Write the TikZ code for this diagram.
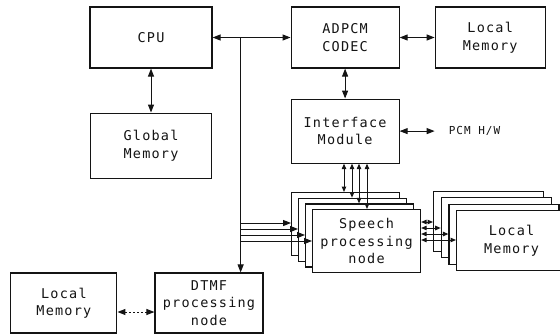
\documentclass[tikz,border=0pt]{standalone}
\usepackage{fontspec}
\setmonofont{DejaVu Sans Mono}[LetterSpace=9]
\usepackage{tikz}
\usetikzlibrary{arrows.meta,calc,positioning}
\definecolor{ink}{HTML}{141414}
\tikzset{
  font=\ttfamily\fontsize{13.5}{17.5}\selectfont,
  box/.style={draw=ink, fill=white, line width=1.1pt, align=center, inner sep=0pt, text=ink},
  unit/.style={box, minimum width=108pt, minimum height=61pt},
  stackbox/.style={box, minimum width=108pt, minimum height=63pt, anchor=north west},
  memstack/.style={box, minimum width=110pt, minimum height=60pt, anchor=north west},
  link/.style={-{Triangle[length=8pt,width=6pt]}, draw=ink, line width=1pt},
  twoway/.style={{Triangle[length=8pt,width=6pt]}-{Triangle[length=8pt,width=6pt]}, draw=ink, line width=1pt},
  shortway/.style={{Triangle[length=5.5pt,width=4.5pt]}-{Triangle[length=5.5pt,width=4.5pt]}, draw=ink, line width=1pt},
  sidelabel/.style={font=\ttfamily\fontsize{11}{13}\selectfont, text=ink, inner ysep=0pt, inner xsep=14pt}
}

\begin{document}
\begin{tikzpicture}[x=1pt, y=-1pt]
  \useasboundingbox (0,0) rectangle (560,335);
  \clip (0,0) rectangle (560,335);

  % CPU side
  \node[box, minimum width=122pt, minimum height=61pt] (cpu) at (151,37.5) {CPU};
  \node[box, minimum width=121pt, minimum height=65pt, below=44pt of cpu] (gmem) {Global\\Memory};

  % Codec path
  \node[unit, right=78pt of cpu] (adpcm) {ADPCM\\CODEC};
  \node[unit, minimum width=110pt, right=35pt of adpcm] (lmemA) {Local\\Memory};
  \node[unit, minimum height=64pt, below=30pt of adpcm] (iface) {Interface\\Module};
  \node[sidelabel, right=35pt of iface, anchor=west] (pcm) {PCM H/W};

  % Speech processing nodes and their local memories
  \foreach \i in {0,1,2}
    \node[stackbox] (sp\i) at ({291+7*\i},{192+5.7*\i}) {};
  \node[stackbox] (sp3) at (312,209) {Speech\\processing\\node};
  \foreach \i in {0,1,2}
    \node[memstack] (lm\i) at ({433+7.7*\i},{191+6.3*\i}) {};
  \node[memstack] (lm3) at (456,210) {Local\\Memory};

  % DTMF
  \node[box, minimum width=108pt, minimum height=60pt] (dtmf) at (209,303) {DTMF\\processing\\node};
  \node[box, minimum width=106pt, minimum height=60pt, left=37pt of dtmf] (lmemB) {Local\\Memory};

  % Connections
  \coordinate (busx) at ($(cpu.east)!0.36!(adpcm.west)$);
  \draw[twoway] (cpu.east) -- (adpcm.west);
  \draw[twoway] (cpu.south) -- (gmem.north);
  \draw[link] (busx) -- (busx |- dtmf.north);
  \draw[twoway] (adpcm.east) -- (lmemA.west);
  \draw[twoway] (adpcm.south) -- (iface.north);
  \draw[twoway] (iface.east) -- (pcm.west);
  \foreach \i/\x in {0/344,1/352,2/359,3/367}
    \draw[shortway] (\x,0 |- iface.south) -- (\x,0 |- sp\i.north);
  \foreach \i/\y in {0/223,1/229,2/235,3/241}
    \draw[link] (busx |- 0,\y) -- (sp\i.west |- 0,\y);
  \foreach \i/\y in {0/222,1/228,2/234,3/240}
    \draw[shortway] (sp3.east |- 0,\y) -- (lm\i.west |- 0,\y);
  \draw[twoway, dash pattern=on 2pt off 2pt] ([yshift=-9pt]lmemB.east) -- ([yshift=-9pt]lmemB.east -| dtmf.west);
\end{tikzpicture}
\end{document}
